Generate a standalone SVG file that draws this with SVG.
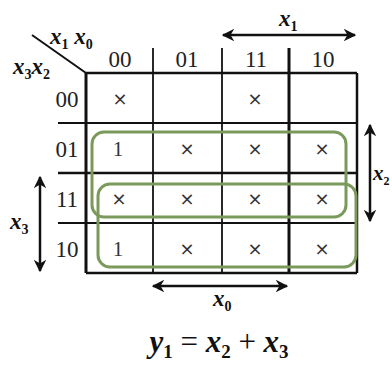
<svg xmlns="http://www.w3.org/2000/svg" width="392" height="365" viewBox="0 0 392 365">
<style>
.g{stroke:#111;fill:none}
.t{font-family:"Liberation Serif",serif;font-size:23px;fill:#222;text-anchor:middle}
.c{font-family:"Liberation Serif",serif;font-size:21px;fill:#333;text-anchor:middle}
.x{font-family:"DejaVu Sans",sans-serif;font-size:18px;fill:#333;text-anchor:middle}
.v{font-family:"Liberation Serif",serif;font-size:23px;font-style:italic;font-weight:bold;fill:#111}
.s{font-size:14px;font-style:normal}
.loop{fill:none;stroke:#7a9a5c;stroke-width:3}
.arr{stroke:#111;stroke-width:2.5;fill:none;marker-start:url(#ah);marker-end:url(#ah)}
</style>
<defs>
<marker id="ah" viewBox="0 0 10 10" refX="9" refY="5" markerWidth="5" markerHeight="5" orient="auto-start-reverse" markerUnits="strokeWidth">
<path d="M0,0 L10,5 L0,10 L3,5 Z" fill="#111"/>
</marker>
</defs>
<rect width="392" height="365" fill="#fff"/>
<g id="grid">
<line class="g" x1="86" y1="73" x2="357" y2="73" stroke-width="2.5"/>
<line class="g" x1="58" y1="123" x2="357" y2="123" stroke-width="2"/>
<line class="g" x1="58" y1="173" x2="357" y2="173" stroke-width="2.5"/>
<line class="g" x1="58" y1="223" x2="357" y2="223" stroke-width="2"/>
<line class="g" x1="86" y1="273" x2="357" y2="273" stroke-width="2.5"/>
<line class="g" x1="86" y1="73" x2="86" y2="273" stroke-width="3"/>
<line class="g" x1="153" y1="48" x2="153" y2="273" stroke-width="1.8"/>
<line class="g" x1="222" y1="48" x2="222" y2="273" stroke-width="1.8"/>
<line class="g" x1="289" y1="48" x2="289" y2="273" stroke-width="3"/>
<line class="g" x1="357" y1="73" x2="357" y2="273" stroke-width="2.5"/>
<line class="g" x1="32" y1="35" x2="86" y2="73" stroke-width="2"/>
</g>
<g id="headers">
<text class="v" x="50" y="44">x<tspan class="s" dy="5">1</tspan><tspan dy="-5"> x</tspan><tspan class="s" dy="5">0</tspan></text>
<text class="v" x="13" y="74">x<tspan class="s" dy="5">3</tspan><tspan dy="-5">x</tspan><tspan class="s" dy="5">2</tspan></text>
<text class="t" x="120" y="67">00</text>
<text class="t" x="187" y="67">01</text>
<text class="t" x="256" y="67">11</text>
<text class="t" x="323" y="67">10</text>
<text class="t" x="67" y="107">00</text>
<text class="t" x="67" y="157">01</text>
<text class="t" x="67" y="207">11</text>
<text class="t" x="67" y="257">10</text>
</g>
<g id="cells">
<text class="x" x="120" y="105">×</text>
<text class="x" x="255" y="105">×</text>
<text class="c" x="118" y="156">1</text>
<text class="x" x="187" y="155">×</text>
<text class="x" x="255" y="155">×</text>
<text class="x" x="322" y="155">×</text>
<text class="x" x="119" y="205">×</text>
<text class="x" x="187" y="205">×</text>
<text class="x" x="255" y="205">×</text>
<text class="x" x="322" y="205">×</text>
<text class="c" x="118" y="256">1</text>
<text class="x" x="187" y="255">×</text>
<text class="x" x="255" y="255">×</text>
<text class="x" x="322" y="255">×</text>
</g>
<g id="loops">
<rect class="loop" x="92" y="132" width="254" height="85" rx="12"/>
<rect class="loop" x="98" y="184" width="258" height="83" rx="12"/>
</g>
<g id="connectors">
<line class="arr" x1="223" y1="35" x2="355" y2="35"/>
<line class="arr" x1="370" y1="125" x2="370" y2="221"/>
<line class="arr" x1="40" y1="177" x2="40" y2="271"/>
<line class="arr" x1="153" y1="286" x2="287" y2="286"/>
</g>
<g id="labels">
<text class="v" x="279" y="26">x<tspan class="s" dy="5">1</tspan></text>
<text class="v" x="373" y="180" style="font-size:21px">x<tspan class="s" dy="5" style="font-size:12px">2</tspan></text>
<text class="v" x="10" y="229">x<tspan class="s" dy="5">3</tspan></text>
<text class="v" x="213" y="306">x<tspan class="s" dy="5">0</tspan></text>
<text class="v" x="219" y="352" text-anchor="middle" style="font-size:31px">y<tspan class="s" dy="6" style="font-size:19px">1</tspan><tspan dy="-6" style="font-style:normal;font-weight:normal"> = </tspan>x<tspan class="s" dy="6" style="font-size:19px">2</tspan><tspan dy="-6" style="font-style:normal;font-weight:normal"> + </tspan>x<tspan class="s" dy="6" style="font-size:19px">3</tspan></text>
</g>
</svg>
